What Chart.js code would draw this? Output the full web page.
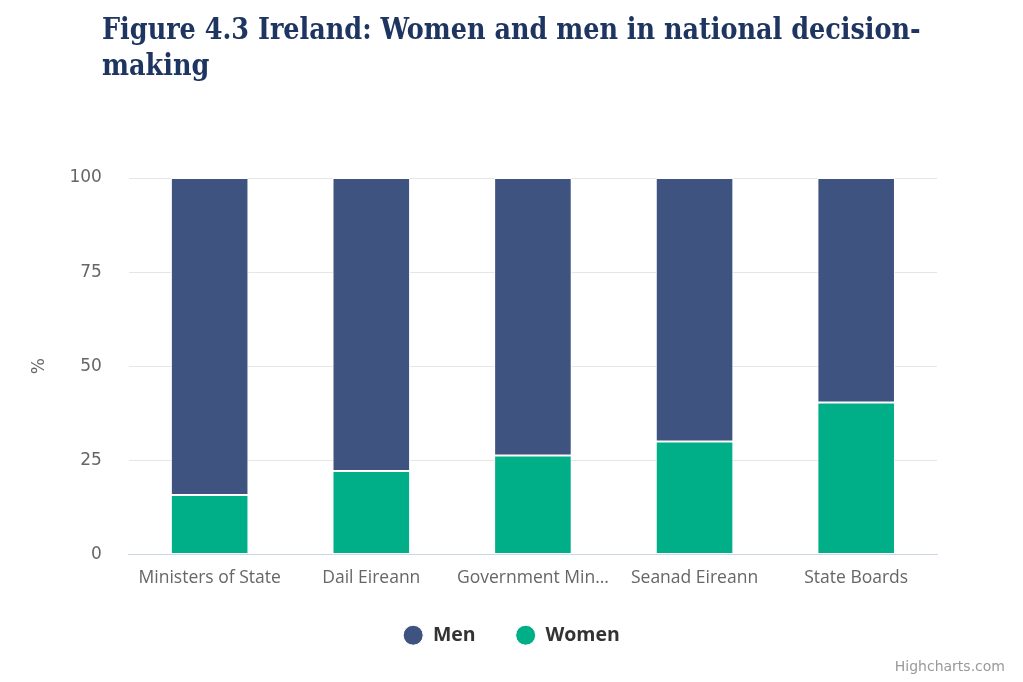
<!DOCTYPE html>
<html>
<head>
<meta charset="utf-8">
<script src="https://cdn.jsdelivr.net/npm/chart.js@4"></script>
<style>
  html, body { margin: 0; padding: 0; background: #fff; }
  #wrap { position: relative; width: 1023px; height: 682px; overflow: hidden; }
  #title { position: absolute; left: 102px; top: 11px; margin: 0; white-space: nowrap;
    font-family: "DejaVu Serif Condensed", "DejaVu Serif", serif; transform: scaleX(0.945); transform-origin: 0 0;
    font-weight: bold; font-size: 30px; line-height: 36px; color: #1f3561; }
  #credit { position: absolute; right: 18px; top: 658px; font-family: "DejaVu Sans", sans-serif;
    font-size: 14px; color: #999; }
  canvas { position: absolute; left: 0; top: 0; }
</style>
</head>
<body>
<div id="wrap">
  <canvas id="c" width="1023" height="682"></canvas>
  <h1 id="title">Figure 4.3 Ireland: Women and men in national decision-<br>making</h1>
  <div id="credit">Highcharts.com</div>
</div>
<script>
const categories = ["Ministers of State", "Dail Eireann", "Government Ministers", "Seanad Eireann", "State Boards"];
const women = [15.8, 22.2, 26.3, 30.0, 40.4];
const men = [84.2, 77.8, 73.7, 70.0, 59.6];
const yTicks = [0, 25, 50, 75, 100];

const placeLegend = {
  id: 'placeLegend',
  afterLayout(chart) {
    const lg = chart.legend;
    lg.left = 0; lg.right = chart.width; lg.width = chart.width;
    lg.top -= 16; lg.bottom -= 16;
  }
};

new Chart(document.getElementById('c'), {
  type: 'bar',
  data: {
    labels: categories,
    datasets: [
      { label: 'Women', data: women, backgroundColor: '#00ae87', borderColor: '#ffffff', borderWidth: 1, borderSkipped: false },
      { label: 'Men', data: men, backgroundColor: '#3f5380', borderColor: '#ffffff', borderWidth: 1, borderSkipped: false }
    ]
  },
  options: {
    responsive: false,
    animation: false,
    devicePixelRatio: 1,
    layout: { padding: { top: 178, left: 29, right: 86, bottom: 11 } },
    datasets: { bar: { categoryPercentage: 0.6, barPercentage: 0.8 } },
    plugins: {
      legend: {
        position: 'bottom', reverse: true,
        labels: { usePointStyle: true, pointStyle: 'circle', pointStyleWidth: 20, boxWidth: 20, boxHeight: 14.14, padding: 40,
          color: '#333', font: { family: 'Open Sans', size: 19.5, weight: 'bold' } }
      },
      tooltip: { enabled: false }
    },
    scales: {
      x: {
        stacked: true,
        grid: { display: false, drawTicks: false },
        border: { color: '#ccd6eb', width: 1 },
        ticks: { color: '#666', padding: 13, maxRotation: 0, autoSkip: false,
          font: { family: 'Open Sans', size: 17.5 },
          callback: function(v) { const s = categories[v]; return s.length > 19 ? s.slice(0, 14) + '…' : s; } }
      },
      y: {
        stacked: true, min: 0, max: 100,
        afterBuildTicks: function(axis) { axis.ticks = yTicks.map(v => ({ value: v })); },
        grid: { color: '#e6e6e6', drawTicks: false },
        border: { display: false },
        ticks: { color: '#666', padding: 27, font: { family: 'DejaVu Sans', size: 17 } },
        title: { display: true, text: '%', color: '#666', padding: { top: 0, bottom: -7 }, font: { family: 'DejaVu Sans', size: 17 } }
      }
    }
  },
  plugins: [placeLegend]
});
</script>
</body>
</html>
